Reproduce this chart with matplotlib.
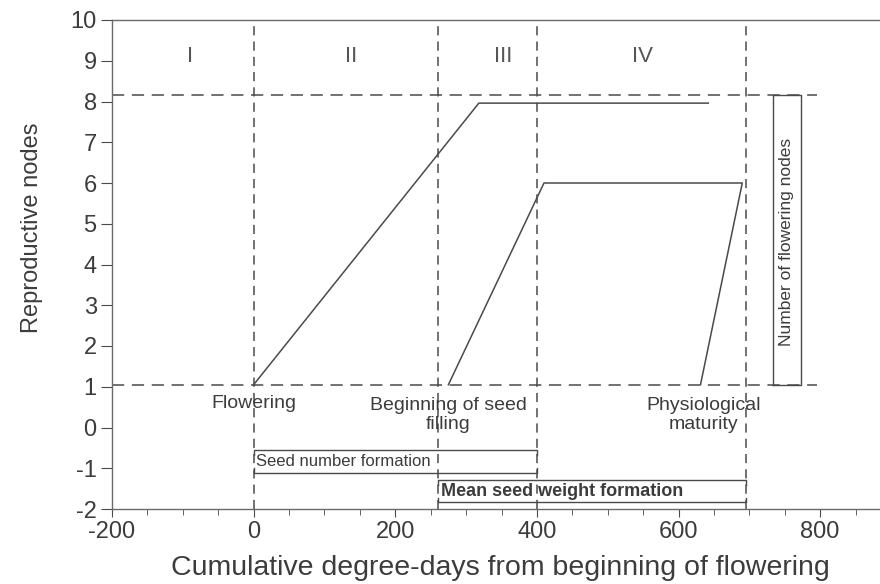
import matplotlib
matplotlib.use("Agg")
import matplotlib.pyplot as plt
from matplotlib.ticker import MultipleLocator

plt.rcParams['font.family'] = ['Liberation Sans', 'DejaVu Sans']
plt.rcParams['axes.unicode_minus'] = False

# phase boundaries (degree-days) and node levels
phase_bounds = [0, 260, 400, 695]
node_levels = [1.05, 8.15]
phase_labels = ["I", "II", "III", "IV"]
phase_label_x = [-90, 138, 352, 549]

# flowering nodes curve and filled-seed nodes curve
flower_x = [0, 318, 642]
flower_y = [1.05, 7.96, 7.96]
fill_x = [275, 410, 690, 631]
fill_y = [1.05, 6.0, 6.0, 1.05]

# bottom brackets: (start, end, top, bottom, label, weight)
brackets = [
    (0, 400, -0.55, -1.12, "Seed number formation", "normal"),
    (260, 695, -1.28, -1.84, "Mean seed weight formation", "bold"),
]

events = [
    (0, 0.6, "Flowering"),
    (275, 0.3, "Beginning of seed\nfilling"),
    (635, 0.3, "Physiological\nmaturity"),
]

line_c = "#4a4a4a"
text_c = "#3c3c3c"
dash = (0, (8, 5))

fig = plt.figure(figsize=(8.8, 5.84), dpi=100)
ax = fig.add_axes([112 / 880, 75 / 584, 779 / 880, 489 / 584])
ax.set_xlim(-200, 900)
ax.set_ylim(-2, 10)

for b in phase_bounds:
    ax.axvline(b, color=line_c, lw=1.1, ls=(0, (6, 4)))
for lv in node_levels:
    ax.plot([-200, 795], [lv, lv], color=line_c, lw=1.1, ls=dash)

ax.plot(flower_x, flower_y, color=line_c, lw=1.1)
ax.plot(fill_x, fill_y, color=line_c, lw=1.1)

for lab, xx in zip(phase_labels, phase_label_x):
    ax.text(xx, 9.1, lab, ha="center", va="center", fontsize=16, color="#555555")

# number of flowering nodes box
box_x = [733, 773]
ax.plot([box_x[0], box_x[1], box_x[1], box_x[0], box_x[0]],
        [node_levels[0], node_levels[0], node_levels[1], node_levels[1], node_levels[0]],
        color=line_c, lw=1.0)
ax.text(sum(box_x) / 2, 4.55, "Number of flowering nodes", rotation=90,
        ha="center", va="center", fontsize=12.5, color=text_c)

for x0, x1, top, bot, lab, wt in brackets:
    h = 0.12
    ax.plot([x0, x0, x1, x1], [top - h, top, top, top - h], color=line_c, lw=1.0)
    ax.plot([x0, x0, x1, x1], [bot + h, bot, bot, bot + h], color=line_c, lw=1.0)
    ax.text(x0 + 4, (top + bot) / 2, lab, ha="left", va="center",
            fontsize=12 if wt == "normal" else 13, fontweight=wt, color=text_c)

for xx, yy, lab in events:
    ax.text(xx, yy, lab, ha="center", va="center", fontsize=14, color=text_c,
            linespacing=1.15)

ax.xaxis.set_major_locator(MultipleLocator(200))
ax.xaxis.set_minor_locator(MultipleLocator(50))
ax.yaxis.set_major_locator(MultipleLocator(1))
ax.tick_params(axis="both", which="major", labelsize=17, colors=line_c, labelcolor=text_c)
ax.tick_params(axis="x", which="major", length=6, pad=3)
ax.tick_params(axis="x", which="minor", length=4, colors=line_c)
ax.tick_params(axis="y", which="major", length=8, pad=3)

for s in ax.spines.values():
    s.set_color("#6a6a6a")
    s.set_linewidth(1.0)

ax.set_xlabel("Cumulative degree-days from beginning of flowering", fontsize=20.5, color=text_c)
ax.set_ylabel("Reproductive nodes", fontsize=17, color=text_c)
ax.xaxis.set_label_coords(0.498, -0.094)
ax.yaxis.set_label_coords(-0.088, 0.575)

fig.savefig("out.png", dpi=100)
